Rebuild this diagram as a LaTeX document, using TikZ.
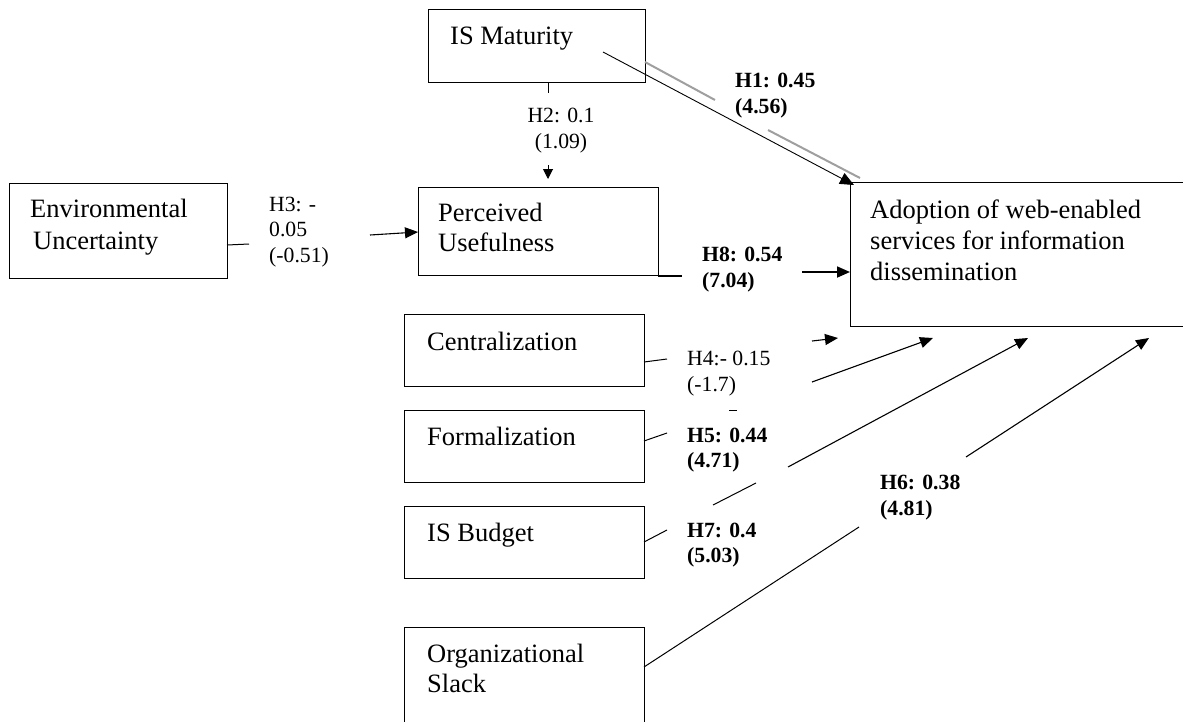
\documentclass[tikz,border=0pt]{standalone}
\usepackage{fontspec}
\setmainfont{Liberation Serif}
\usetikzlibrary{arrows.meta,calc}
\begin{document}
\begin{tikzpicture}[x=1pt,y=-1pt,
  box/.style={draw, line width=1.3pt, inner sep=0pt, anchor=north west},
  boxtext/.style={anchor=base west, inner sep=0pt, font=\fontsize{26.5}{31.5}\selectfont},
  lab/.style={anchor=base west, inner sep=0pt, font=\fontsize{21.7}{26}\selectfont},
  blab/.style={anchor=base west, inner sep=0pt, font=\fontsize{21.7}{26}\selectfont\bfseries},
  clab/.style={anchor=base, inner sep=0pt, font=\fontsize{21.7}{26}\selectfont},
  conn/.style={line width=1pt},
  shade/.style={draw=gray!75, line width=2pt},
  arr/.style={line width=1.1pt, -{Triangle[length=13pt,width=11pt]}},
  sarr/.style={line width=1pt, -{Triangle[length=10pt,width=10pt]}},
]
\useasboundingbox (0,0) rectangle (1183,721);
\clip (0,0) rectangle (1183,721);

% boxes
\node[box, minimum width=217pt, minimum height=73pt] (ism) at (428,9) {};
\node[box, minimum width=218pt, minimum height=95pt] (env) at (9,183) {};
\node[box, minimum width=240pt, minimum height=88pt] (pu) at (418,187) {};
\node[box, minimum width=360pt, minimum height=144pt] (ado) at (850,182) {};
\node[box, minimum width=240pt, minimum height=72pt] (cen) at (404,314) {};
\node[box, minimum width=240pt, minimum height=72pt] (frm) at (404,410) {};
\node[box, minimum width=240pt, minimum height=72pt] (bud) at (404,506) {};
\node[box, minimum width=240pt, minimum height=110pt] (sla) at (404,627) {};

% box texts
\node[boxtext] (ismT) at (450,44) {IS Maturity};
\node[boxtext] (envT1) at (30,217) {Environmental};
\node[boxtext] (envT2) at (33,249) {Uncertainty};
\node[boxtext] (puT1) at (438,221) {Perceived};
\node[boxtext] (puT2) at (438,251) {Usefulness};
\node[boxtext] (adoT1) at (870,218) {Adoption of web-enabled};
\node[boxtext] (adoT2) at (870,249) {services for information};
\node[boxtext] (adoT3) at (870,280) {dissemination};
\node[boxtext] (cenT) at (427,350) {Centralization};
\node[boxtext] (frmT) at (427,445) {Formalization};
\node[boxtext] (budT) at (427,541) {IS Budget};
\node[boxtext] (slaT1) at (427,662) {Organizational};
\node[boxtext] (slaT2) at (427,692) {Slack};

% path labels
\node[blab] (h1a) at (735,87) {H1: 0.45};
\node[blab] (h1b) at (735,113) {(4.56)};
\node[clab] (h2a) at (561,122) {H2: 0.1};
\node[clab] (h2b) at (561,148) {(1.09)};
\node[lab] (h3a) at (269,211) {H3: -};
\node[lab] (h3b) at (269,236) {0.05};
\node[lab] (h3c) at (269,262) {(-0.51)};
\node[lab] (h4a) at (687,365) {H4:- 0.15};
\node[lab] (h4b) at (687,391) {(-1.7)};
\node[blab] (h5a) at (687,442) {H5: 0.44};
\node[blab] (h5b) at (687,467) {(4.71)};
\node[blab] (h7a) at (687,537) {H7: 0.4};
\node[blab] (h7b) at (687,562) {(5.03)};
\node[blab] (h6a) at (880,489) {H6: 0.38};
\node[blab] (h6b) at (880,515) {(4.81)};
\node[blab] (h8a) at (702,261) {H8: 0.54};
\node[blab] (h8b) at (702,287) {(7.04)};

% connector points
\coordinate (h1s) at (603,52);
\coordinate (h1e) at (854,185);
\coordinate (g1s) at (645,62);
\coordinate (g1e) at (715,100);
\coordinate (g2s) at (768,130);
\coordinate (g2e) at (860,178);
\coordinate (h2s) at (548,82);
\coordinate (h2m) at (548,93);
\coordinate (h2t) at (548,165);
\coordinate (h2e) at (548,179);
\coordinate (h3s) at (227,245);
\coordinate (h3m) at (249,244);
\coordinate (h3t) at (370,235);
\coordinate (h3e) at (418,232);
\coordinate (h8s) at (658,276);
\coordinate (h8m) at (682,276);
\coordinate (h8t) at (802,272);
\coordinate (h8e) at (850,272);
\coordinate (h4s) at (644,362);
\coordinate (h4m) at (667,359);
\coordinate (h4t) at (812,341);
\coordinate (h4e) at (838,338);
\coordinate (dA) at (729,410);
\coordinate (dB) at (737,410);
\coordinate (h5s) at (644,441);
\coordinate (h5m) at (667,433);
\coordinate (h5t) at (812,382);
\coordinate (h5e) at (933,338);
\coordinate (h7s) at (644,542);
\coordinate (h7m) at (667,530);
\coordinate (h7u) at (713,505);
\coordinate (h7v) at (756,483);
\coordinate (h7t) at (788,467);
\coordinate (h7e) at (1028,338);
\coordinate (h6s) at (644,667);
\coordinate (h6m) at (859,527);
\coordinate (h6t) at (966,457);
\coordinate (h6e) at (1149,338);

% H1
\draw[shade] (g1s) -- (g1e);
\draw[shade] (g2s) -- (g2e);
\draw[line width=0.9pt, -{Triangle[length=14pt,width=12pt]}] (h1s) -- (h1e);
% H2
\draw[conn] (h2s) -- (h2m);
\draw[sarr] (h2t) -- (h2e);
% H3
\draw[conn] (h3s) -- (h3m);
\draw[arr] (h3t) -- (h3e);
% H8
\draw[line width=1.8pt] (h8s) -- (h8m);
\draw[line width=1.8pt, -{Triangle[length=13pt,width=11pt]}] (h8t) -- (h8e);
% H4
\draw[conn] (h4s) -- (h4m);
\draw[arr] (h4t) -- (h4e);
\draw[conn] (dA) -- (dB);
% H5
\draw[conn] (h5s) -- (h5m);
\draw[arr] (h5t) -- (h5e);
% H7
\draw[conn] (h7s) -- (h7m);
\draw[conn] (h7u) -- (h7v);
\draw[arr] (h7t) -- (h7e);
% H6
\draw[conn] (h6s) -- (h6m);
\draw[arr] (h6t) -- (h6e);
\end{tikzpicture}
\end{document}
